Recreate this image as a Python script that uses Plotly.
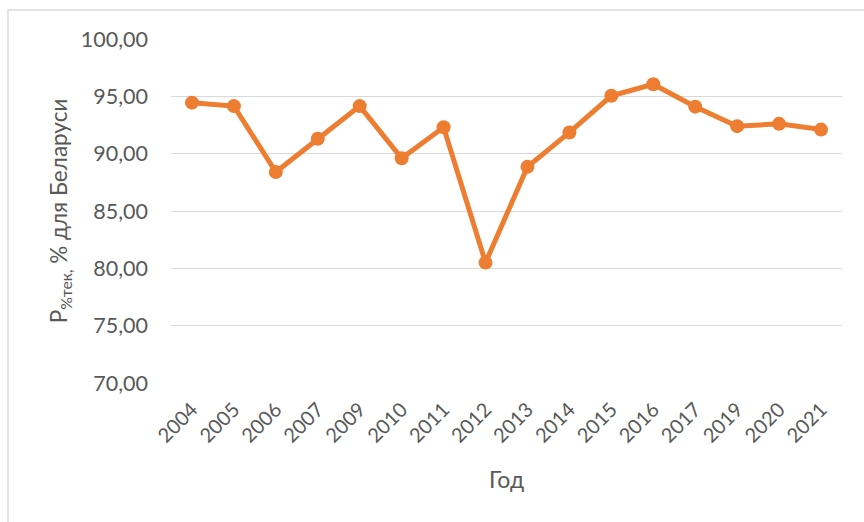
import plotly.graph_objects as go

years = ["2004", "2005", "2006", "2007", "2009", "2010", "2011", "2012",
         "2013", "2014", "2015", "2016", "2017", "2019", "2020", "2021"]
values = [94.45, 94.15, 88.4, 91.3, 94.15, 89.6, 92.3, 80.5,
          88.85, 91.85, 95.05, 96.05, 94.1, 92.4, 92.6, 92.1]
y_ticks = [70, 75, 80, 85, 90, 95, 100]
y_tick_labels = ["70,00", "75,00", "80,00", "85,00", "90,00", "95,00", "100,00"]

ORANGE = "#ED7D31"
GRID = "#D9D9D9"
TEXT = "#595959"
FONT = "Lato"

fig = go.Figure()
fig.add_trace(go.Scatter(
    x=list(range(len(years))), y=values, mode="lines+markers",
    line=dict(color=ORANGE, width=5),
    marker=dict(color=ORANGE, size=14),
    showlegend=False, hoverinfo="skip",
))

fig.update_layout(
    width=864, height=522,
    margin=dict(l=171, r=22, t=39, b=139, autoexpand=False),
    paper_bgcolor="white", plot_bgcolor="white",
    font=dict(family=FONT, size=21, color=TEXT),
    xaxis=dict(
        tickmode="array", tickvals=list(range(len(years))), ticktext=years,
        range=[-0.5, len(years) - 0.5], tickangle=-45,
        showgrid=False, zeroline=False, showline=False, ticks="",
        ticklabelstandoff=10,
        tickfont=dict(family=FONT, size=20, color=TEXT),
        title=dict(text="Год", font=dict(family=FONT, size=23, color=TEXT), standoff=26),
        automargin=False,
    ),
    yaxis=dict(
        range=[70, 100], tickmode="array", tickvals=y_ticks, ticktext=y_tick_labels,
        showgrid=True, gridcolor=GRID, gridwidth=1.3, zeroline=False, showline=False,
        ticks="", ticklabelstandoff=22,
        tickfont=dict(family=FONT, size=21.5, color=TEXT),
        title=dict(text="Р<sub>%тек,</sub> % для Беларуси",
                   font=dict(family=FONT, size=22.5, color=TEXT), standoff=6),
        automargin=False,
    ),
    shapes=[dict(type="rect", xref="paper", yref="paper",
                 x0=(8 - 171) / 671, x1=(870 - 171) / 671,
                 y0=(383 - 530) / 344, y1=(383 - 10) / 344,
                 line=dict(color="#D9D9D9", width=1.3), fillcolor="rgba(0,0,0,0)",
                 layer="below")],
)

fig.write_html("out.html", config={"displayModeBar": False},
               post_script="document.body.style.margin='0';document.body.style.overflow='hidden';")
